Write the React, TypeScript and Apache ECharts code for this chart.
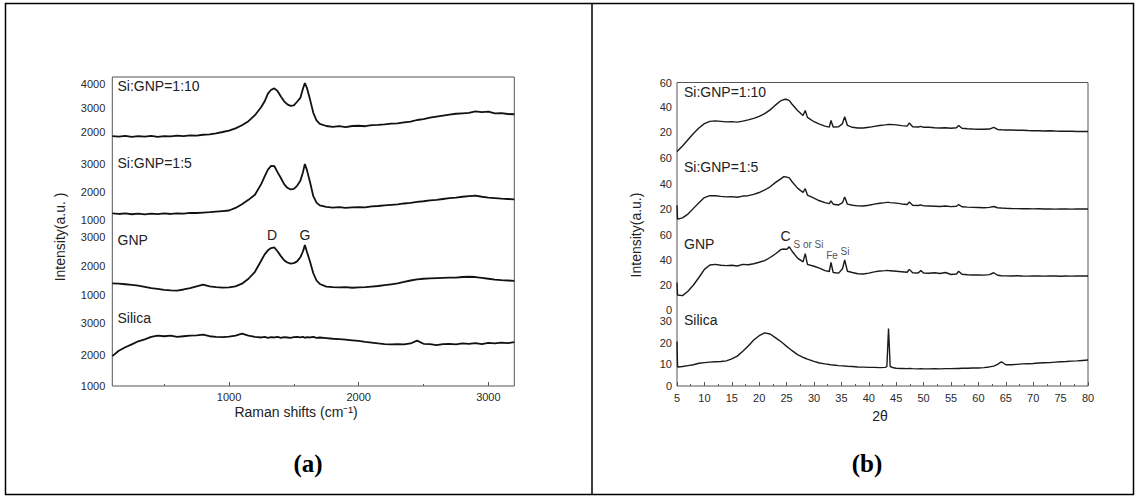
import React, { useEffect, useRef } from "react";
import * as echarts from "echarts";

// ---------- Raman (panel a) ----------
const ramanX = [
  100, 150, 200, 250, 300, 350, 400, 450, 500, 550,
  600, 650, 700, 750, 800, 850, 900, 950, 1000, 1050,
  1100, 1150, 1200, 1250, 1275, 1300, 1325, 1350, 1375, 1400,
  1425, 1450, 1475, 1500, 1525, 1550, 1570, 1585, 1600, 1625,
  1650, 1675, 1700, 1750, 1800, 1850, 1900, 1950, 2000, 2050,
  2100, 2150, 2200, 2250, 2300, 2350, 2400, 2450, 2500, 2550,
  2600, 2650, 2700, 2750, 2800, 2850, 2900, 2950, 3000, 3050,
  3100, 3150, 3200,
];
const ramanSi10 = [
  1830, 1805, 1840, 1795, 1825, 1810, 1840, 1800, 1830, 1815,
  1845, 1825, 1860, 1850, 1885, 1900, 1945, 2000, 2060, 2150,
  2280, 2450, 2700, 3050, 3280, 3600, 3760, 3820, 3700, 3480,
  3280, 3150, 3090, 3110, 3260, 3420, 3800, 4040, 3850, 3350,
  2800, 2480, 2340, 2250, 2210, 2245, 2200, 2250, 2260, 2240,
  2290, 2300, 2320, 2350, 2360, 2400, 2430, 2500, 2540, 2600,
  2640, 2680, 2720, 2760, 2780, 2800, 2860, 2830, 2850, 2780,
  2790, 2750, 2740,
];
const ramanSi5 = [
  1240, 1215, 1235, 1205, 1230, 1200, 1225, 1210, 1235, 1215,
  1240, 1225, 1255, 1250, 1265, 1280, 1300, 1320, 1340, 1430,
  1560, 1720, 1900, 2300, 2560, 2800, 2930, 2920, 2700, 2500,
  2280, 2150, 2090, 2110, 2220, 2400, 2700, 3000, 2800, 2350,
  1850, 1620, 1520, 1470, 1440, 1460, 1430, 1450, 1460, 1450,
  1490, 1500, 1520, 1540, 1560, 1590, 1610, 1650, 1670, 1700,
  1720, 1750, 1780, 1800, 1830, 1850, 1870, 1830, 1800, 1780,
  1760, 1750, 1740,
];
const ramanGNP = [
  1400, 1390, 1370, 1350, 1320, 1280, 1240, 1210, 1180, 1160,
  1150, 1190, 1240, 1300, 1360, 1300, 1270, 1255, 1260, 1300,
  1390, 1560, 1800, 2200, 2400, 2540, 2620, 2640, 2500, 2340,
  2200, 2120, 2080, 2100, 2160, 2300, 2500, 2720, 2500, 2150,
  1750, 1500, 1380, 1290, 1270, 1260, 1270, 1250, 1260, 1270,
  1290, 1310, 1340, 1370, 1400, 1450, 1500, 1540, 1560, 1570,
  1580, 1590, 1600, 1600, 1620, 1630, 1620, 1590, 1560, 1530,
  1510, 1500, 1490,
];
const ramanSilica = [
  1950, 2120, 2230, 2320, 2420, 2480, 2560, 2600, 2580, 2600,
  2560, 2580, 2600, 2610, 2630, 2580, 2560, 2550, 2570, 2600,
  2660, 2600, 2560, 2540, 2560, 2530, 2550, 2540, 2560, 2530,
  2550, 2540, 2530, 2550, 2560, 2540, 2560, 2530, 2550, 2540,
  2560, 2530, 2540, 2520, 2500, 2490, 2470, 2450, 2430, 2400,
  2380, 2350, 2330, 2320, 2330, 2320, 2350, 2440, 2340, 2330,
  2300, 2330, 2340, 2320, 2350, 2340, 2360, 2330, 2370, 2350,
  2380, 2360, 2390,
];
const ramanTickLabels = [1000, 2000, 3000];
const ramanMinorTicks = [500, 1500, 2500];

// ---------- XRD (panel b) ----------
const xrdX = [
  5, 5.1, 6, 7, 8, 9, 10, 11, 12, 13,
  14, 15, 16, 17, 18, 19, 20, 21, 22, 23,
  24, 24.5, 25, 25.5, 26, 27, 28, 28.4, 28.8, 30,
  31, 32, 32.8, 33.1, 33.5, 34.5, 35.2, 35.6, 36.1, 37,
  38, 39, 40, 41, 42, 43, 43.3, 43.6, 43.9, 44.5,
  45, 46, 47, 47.4, 48, 49, 49.5, 50, 51, 52,
  53, 54, 55, 56, 56.4, 57, 58, 59, 60, 61,
  62, 62.8, 63.5, 64.2, 65, 66, 67, 68, 69, 70,
  71, 72, 73, 74, 75, 76, 77, 78, 79, 80,
];
const xrdSi10 = [
  4.5, 5, 9, 14, 19, 23.5, 27, 28.8, 29.2, 28.8,
  28.4, 28.6, 28.2, 29, 30, 31.2, 32.8, 35, 38, 42,
  45.5, 46.3, 46.5, 45.5, 42.5, 37.5, 33.5, 37.5, 32, 28.5,
  26.5, 25, 24.2, 29.5, 24.2, 24.5, 27, 32.5, 25.5, 24,
  23.5, 23.5, 24, 24.8, 25.5, 26, 26.2, 26.3, 26.3, 26.2,
  26, 25.4, 25, 27.5, 24.5, 24.3, 24.8, 24, 24, 23.6,
  23.4, 23.6, 23.2, 23.6, 25.5, 23.2, 22.8, 22.6, 22.5, 22.4,
  22.6, 24, 22.3, 22, 21.9, 21.8, 21.7, 21.6, 21.4, 21.3,
  21.2, 21.1, 21.2, 21, 20.9, 20.8, 20.9, 20.7, 20.6, 20.6,
];
const xrdSi5 = [
  23, 12, 13, 16, 20.5, 25, 29, 30.5, 30.5, 30,
  29.6, 29.8, 29.3, 30.2, 30.5, 31.5, 33, 35, 37.5, 41,
  44, 45.5, 45.2, 44.5, 41.5, 36.5, 33, 36, 31, 28.5,
  26.5, 25, 24.2, 26.5, 23.8, 23.2, 25, 29.5, 23.8, 23,
  22.5, 22.4, 23, 23.8, 24.5, 25, 25.2, 25.2, 25, 24.8,
  24.6, 24, 23.6, 25.5, 23, 22.8, 23.2, 22.5, 22.4, 22.2,
  22, 22.4, 21.9, 22.2, 23.5, 21.8, 21.5, 21.3, 21.2, 21,
  21.3, 22, 21, 20.8, 20.6, 20.4, 20.3, 20.2, 20.3, 20.1,
  20.2, 20, 20.1, 19.9, 20, 20, 19.9, 20, 20.1, 20,
];
const xrdGNP = [
  22, 12, 11.5, 15, 20, 26, 32.5, 36, 36.5, 35.8,
  35.5, 35.8, 35.2, 36.5, 36.2, 37, 38.2, 39.5, 42, 45,
  48.5, 48.8, 48.5, 50.5, 47, 41.5, 38.5, 45, 36.5, 35,
  33.5, 31.5, 30.8, 38, 30, 29.5, 33, 40, 31, 30,
  29, 28.8, 29.5, 30.5, 31.2, 31.5, 31.6, 31.5, 31.4, 31.2,
  31, 30.6, 30.2, 32.5, 29.8, 29.6, 31.5, 29.6, 29.4, 29.8,
  29.2, 30, 28.4, 28.8, 31, 28.6, 28.2, 28, 28.1, 27.9,
  28.3, 29.8, 27.8, 27.4, 27.3, 27.2, 27.4, 27.2, 27.1, 27.3,
  27.2, 27.1, 27.3, 27.2, 27, 27.2, 27.1, 27.3, 27.2, 27.2,
];
const xrdSilica = [
  20.5, 8.8, 9, 9.4, 9.8, 10.5, 10.8, 11, 11.2, 11.3,
  11.6, 12.5, 13.8, 16, 18.5, 21.2, 23.2, 24.5, 24, 22.2,
  20.4, 19.4, 18.3, 17.3, 16.3, 14.5, 13.2, 12.8, 12.4, 11.4,
  10.6, 10.2, 9.9, 9.8, 9.7, 9.4, 9.3, 9.2, 9.1, 9,
  8.8, 8.7, 8.6, 8.6, 8.5, 8.6, 9, 26.5, 9, 8.4,
  8.2, 8.1, 8, 8.1, 8, 7.9, 8, 7.9, 7.9, 8,
  7.9, 8, 8, 8.1, 8.1, 8.2, 8.2, 8.3, 8.3, 8.5,
  8.8, 9.2, 10, 11.2, 9.8, 9.8, 10, 10.2, 10.3, 10.4,
  10.6, 10.7, 10.8, 11, 11.2, 11.3, 11.5, 11.6, 11.8, 12,
];

const sampleNames = ["Si:GNP=1:10", "Si:GNP=1:5", "GNP", "Silica"];

const FONT = '"Liberation Sans", Arial, Helvetica, sans-serif';
const SERIF = '"Liberation Serif", "Times New Roman", serif';

const pairs = (xs: number[], ys: number[]) => xs.map((x, i) => [x, ys[i]]);
const plain = (v: number) => String(v);

export default function App() {
  const ref = useRef<HTMLDivElement>(null);

  useEffect(() => {
    if (!ref.current) return;
    const chart = echarts.init(ref.current, null, { renderer: "svg" });

    const aLeft = 112.3, aWidth = 402;
    const bLeft = 677, bWidth = 411;
    const aGrid = [
      { top: 84, height: 48, min: 2000, max: 4000, interval: 1000 },
      { top: 164, height: 56, min: 1000, max: 3000, interval: 1000 },
      { top: 237, height: 58, min: 1000, max: 3000, interval: 1000 },
      { top: 323, height: 63, min: 1000, max: 3000, interval: 1000 },
    ];
    const bGrid = [
      { top: 82.5, height: 49.8, min: 20, max: 60, interval: 20 },
      { top: 158.3, height: 50.7, min: 20, max: 60, interval: 20 },
      { top: 235, height: 75, min: 0, max: 60, interval: 20 },
      { top: 321, height: 65, min: 0, max: 30, interval: 10 },
    ];

    const grids: any[] = [];
    const xAxes: any[] = [];
    const yAxes: any[] = [];
    const labelStyle = { color: "#2a2a2a", fontSize: 11, fontFamily: FONT, formatter: plain };

    aGrid.forEach((g, i) => {
      grids.push({ left: aLeft, width: aWidth, top: g.top, height: g.height, containLabel: false, outerBoundsMode: "none" });
      xAxes.push({
        type: "value", gridIndex: i, min: 100, max: 3200, show: i === 3, position: "bottom",
        axisLine: { show: false }, splitLine: { show: false },
        axisTick: { show: true, inside: true, length: 4, lineStyle: { color: "#555" }, customValues: ramanTickLabels },
        axisLabel: { ...labelStyle, margin: 5, customValues: ramanTickLabels },
      });
      yAxes.push({
        type: "value", gridIndex: i, min: g.min, max: g.max, interval: g.interval,
        axisLine: { show: false }, axisTick: { show: false }, splitLine: { show: false },
        axisLabel: { ...labelStyle, margin: 7 },
      });
    });
    bGrid.forEach((g, j) => {
      const i = j + 4;
      grids.push({ left: bLeft, width: bWidth, top: g.top, height: g.height, containLabel: false, outerBoundsMode: "none" });
      xAxes.push({
        type: "value", gridIndex: i, min: 5, max: 80, interval: 5, show: j === 3, position: "bottom",
        axisLine: { show: false }, splitLine: { show: false },
        axisTick: { show: true, inside: true, length: 4, lineStyle: { color: "#555" } },
        minorTick: { show: true, splitNumber: 2, length: 2, lineStyle: { color: "#555" } },
        axisLabel: { ...labelStyle, margin: 6 },
      });
      yAxes.push({
        type: "value", gridIndex: i, min: g.min, max: g.max, interval: g.interval,
        axisLine: { show: false }, axisTick: { show: false }, splitLine: { show: false },
        axisLabel: { ...labelStyle, margin: 5 },
      });
    });
    xAxes.push({
      type: "value", gridIndex: 3, min: 100, max: 3200, position: "bottom",
      axisLine: { show: false }, splitLine: { show: false }, axisLabel: { show: false },
      axisTick: { show: true, inside: true, length: 2, lineStyle: { color: "#555" }, customValues: ramanMinorTicks },
    });

    const ramanSets = [ramanSi10, ramanSi5, ramanGNP, ramanSilica];
    const xrdSets = [xrdSi10, xrdSi5, xrdGNP, xrdSilica];
    const series: any[] = [];
    ramanSets.forEach((ys, i) => {
      series.push({
        type: "line", name: "a-" + sampleNames[i], xAxisIndex: i, yAxisIndex: i,
        data: pairs(ramanX, ys), showSymbol: false, clip: false,
        lineStyle: { color: "#111", width: 1.8 },
      });
    });
    xrdSets.forEach((ys, j) => {
      series.push({
        type: "line", name: "b-" + sampleNames[j], xAxisIndex: j + 4, yAxisIndex: j + 4,
        data: pairs(xrdX, ys), showSymbol: false, clip: false,
        lineStyle: { color: "#1a1a1a", width: 1.4 },
      });
    });

    const txt = (text: string, x: number, y: number, opts: any = {}) => ({
      type: "text", x, y, rotation: opts.rotation || 0, silent: true,
      style: {
        text, fill: opts.fill || "#222", fontSize: opts.fontSize || 14,
        fontFamily: opts.fontFamily || FONT, fontWeight: opts.fontWeight || "normal",
        align: opts.align || "left", verticalAlign: "middle",
      },
    });

    const aLabelY = [86, 163, 240, 318];
    const bLabelY = [92, 167, 243.5, 320];
    const graphic: any[] = [
      { type: "rect", shape: { x: 5.5, y: 3.5, width: 1128, height: 491 }, style: { fill: "none", stroke: "#000", lineWidth: 1.5 } },
      { type: "line", shape: { x1: 592, y1: 3.5, x2: 592, y2: 494.5 }, style: { stroke: "#000", lineWidth: 1.5 } },
      { type: "rect", shape: { x: aLeft, y: 77, width: aWidth, height: 309 }, style: { fill: "none", stroke: "#555", lineWidth: 1 } },
      { type: "rect", shape: { x: bLeft, y: 82.5, width: bWidth, height: 303.5 }, style: { fill: "none", stroke: "#555", lineWidth: 1 } },
    ];
    sampleNames.forEach((n, i) => {
      graphic.push(txt(n, 117.5, aLabelY[i]));
      graphic.push(txt(n, 684, bLabelY[i]));
    });
    graphic.push(txt("D", 272, 235, { align: "center" }));
    graphic.push(txt("G", 305, 235, { align: "center" }));
    graphic.push(txt("C", 785.5, 236, { align: "center" }));
    graphic.push(txt("S or Si", 808.5, 244, { align: "center", fontSize: 10, fill: "#555" }));
    graphic.push(txt("Fe", 832, 255, { align: "center", fontSize: 10, fill: "#555" }));
    graphic.push(txt("Si", 845, 251, { align: "center", fontSize: 10, fill: "#555" }));
    graphic.push(txt("Intensity(a.u. )", 60, 237, { align: "center", rotation: Math.PI / 2 }));
    graphic.push(txt("Intensity(a.u.)", 636, 235, { align: "center", rotation: Math.PI / 2 }));
    graphic.push(txt("Raman shifts (cm\u207B\u00B9)", 296, 412, { align: "center" }));
    graphic.push(txt("2\u03B8", 880, 416, { align: "center" }));
    graphic.push(txt("(a)", 308, 463, { align: "center", fontSize: 25, fontWeight: "bold", fontFamily: SERIF, fill: "#000" }));
    graphic.push(txt("(b)", 867, 463, { align: "center", fontSize: 25, fontWeight: "bold", fontFamily: SERIF, fill: "#000" }));

    chart.setOption({
      animation: false,
      backgroundColor: "#fff",
      textStyle: { fontFamily: FONT },
      grid: grids,
      xAxis: xAxes,
      yAxis: yAxes,
      visualMap: [
        {
          type: "piecewise", show: false, seriesIndex: 7, dimension: 0,
          pieces: [
            { lt: 43.25, color: "#1a1a1a" },
            { gte: 43.25, lte: 43.95, color: "#8a8a8a" },
            { gt: 43.95, color: "#1a1a1a" },
          ],
        },
      ],
      series,
      graphic,
    });

    return () => chart.dispose();
  }, []);

  return (
    <div
      ref={ref}
      style={{ position: "absolute", left: 0, top: 0, width: 1137, height: 497, background: "#fff" }}
    />
  );
}
